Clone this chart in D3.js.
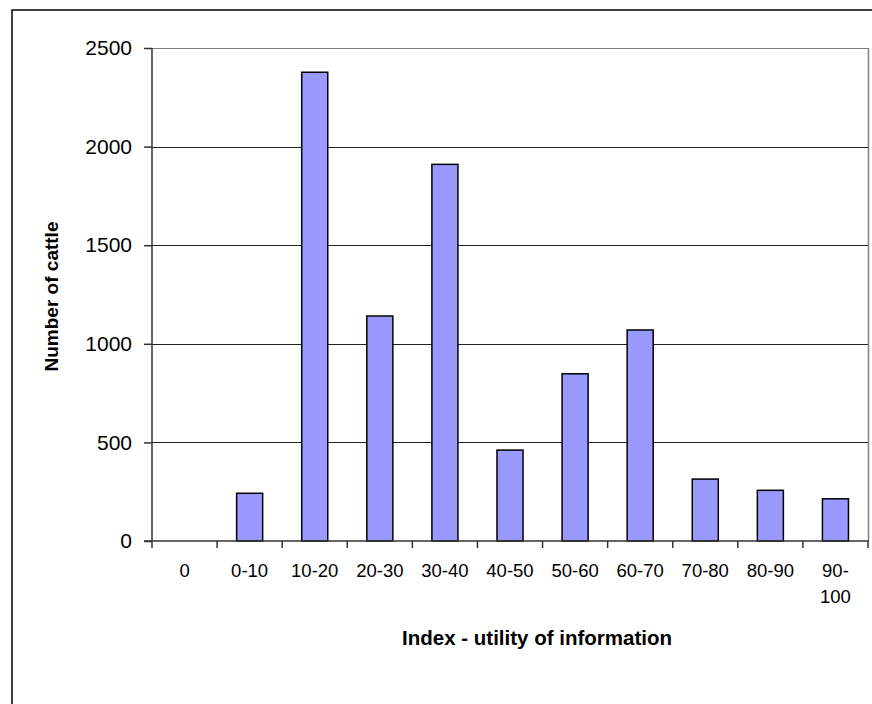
<!DOCTYPE html>
<html>
<head>
<meta charset="utf-8">
<script src="https://cdn.jsdelivr.net/npm/d3@7"></script>
<style>
  body { margin: 0; background: #fff; }
  svg { display: block; font-family: "Liberation Sans", Arial, sans-serif; }
</style>
</head>
<body>
<div class="viewbox"></div>
<script>
// values
const categories = ["0", "0-10", "10-20", "20-30", "30-40", "40-50", "50-60", "60-70", "70-80", "80-90", "90-100"];
const cattle = [0, 242, 2377, 1141, 1910, 461, 848, 1070, 314, 257, 214];
const yTicks = [0, 500, 1000, 1500, 2000, 2500];

const svg_width = 872;
const svg_height = 704;

const plot = { left: 152, top: 48, right: 868, bottom: 541 };

let svg = d3.select(".viewbox")
  .append("svg")
  .attr("width", svg_width)
  .attr("height", svg_height);

// chart frame (runs off the right and bottom of the picture)
svg.append("rect")
  .attr("x", 12).attr("y", 10)
  .attr("width", 900).attr("height", 740)
  .attr("fill", "none")
  .attr("stroke", "#000")
  .attr("stroke-width", 1.5);

let x = d3.scaleBand()
  .domain(categories)
  .range([plot.left, plot.right])
  .paddingInner(0.6)
  .paddingOuter(0.3);

// band boundaries for the tick marks
let xEdge = d3.scaleLinear()
  .domain([0, categories.length])
  .range([plot.left, plot.right]);

let y = d3.scaleLinear()
  .domain([0, 2500])
  .range([plot.bottom, plot.top]);

// gridlines
svg.append("g")
  .selectAll("line")
  .data(yTicks.filter(d => d > 0))
  .enter()
  .append("line")
  .attr("x1", plot.left).attr("x2", plot.right)
  .attr("y1", d => Math.round(y(d)) + 0.5)
  .attr("y2", d => Math.round(y(d)) + 0.5)
  .attr("stroke", d => d === 2500 ? "#808080" : "#222")
  .attr("stroke-width", 1);

// right border of the plot area
svg.append("line")
  .attr("x1", plot.right + 0.5).attr("x2", plot.right + 0.5)
  .attr("y1", plot.top).attr("y2", plot.bottom)
  .attr("stroke", "#808080")
  .attr("stroke-width", 1.5);

// bars
svg.append("g")
  .selectAll("rect")
  .data(cattle.map((v, i) => ({ cat: categories[i], v: v })).filter(d => d.v > 0))
  .enter()
  .append("rect")
  .attr("x", d => x(d.cat))
  .attr("y", d => y(d.v))
  .attr("width", x.bandwidth())
  .attr("height", d => y(0) - y(d.v))
  .attr("fill", "#9999ff")
  .attr("stroke", "#000")
  .attr("stroke-width", 1.5);

// y axis
let yAxis = svg.append("g")
  .attr("transform", `translate(${plot.left},0)`)
  .call(d3.axisLeft(y).tickValues(yTicks).tickSize(8).tickPadding(12).tickFormat(d3.format("d")));
yAxis.select(".domain").attr("stroke", "#333").attr("stroke-width", 1.5).attr("d", `M0,${plot.top}V${plot.bottom}`);
yAxis.selectAll(".tick line").attr("stroke", "#333").attr("stroke-width", 1.5);
yAxis.selectAll(".tick text")
  .attr("font-size", 21)
  .attr("font-family", "Liberation Sans, Arial, sans-serif")
  .attr("fill", "#000");

// x axis line and boundary ticks
let xAxis = svg.append("g");
xAxis.append("line")
  .attr("x1", plot.left - 8).attr("x2", plot.right + 1)
  .attr("y1", plot.bottom).attr("y2", plot.bottom)
  .attr("stroke", "#333").attr("stroke-width", 1.5);
xAxis.selectAll(".xtick")
  .data(d3.range(categories.length + 1))
  .enter()
  .append("line")
  .attr("x1", d => xEdge(d)).attr("x2", d => xEdge(d))
  .attr("y1", plot.bottom).attr("y2", plot.bottom + 7)
  .attr("stroke", "#333").attr("stroke-width", 1.5);

// category labels (last one wraps)
xAxis.selectAll(".xlabel")
  .data(categories)
  .enter()
  .append("text")
  .attr("text-anchor", "middle")
  .attr("font-size", 18.5)
  .attr("fill", "#000")
  .each(function (d) {
    let cx = x(d) + x.bandwidth() / 2;
    let lines = d === "90-100" ? ["90-", "100"] : [d];
    lines.forEach((t, k) => {
      d3.select(this).append("tspan")
        .attr("x", cx)
        .attr("y", 577 + k * 26)
        .text(t);
    });
  });

// axis titles
svg.append("text")
  .attr("x", 537).attr("y", 645)
  .attr("text-anchor", "middle")
  .attr("font-size", 20.5)
  .attr("font-weight", "bold")
  .text("Index - utility of information");

svg.append("text")
  .attr("transform", `translate(58,${(plot.top + plot.bottom) / 2 + 2}) rotate(-90)`)
  .attr("text-anchor", "middle")
  .attr("font-size", 19)
  .attr("font-weight", "bold")
  .text("Number of cattle");
</script>
</body>
</html>
